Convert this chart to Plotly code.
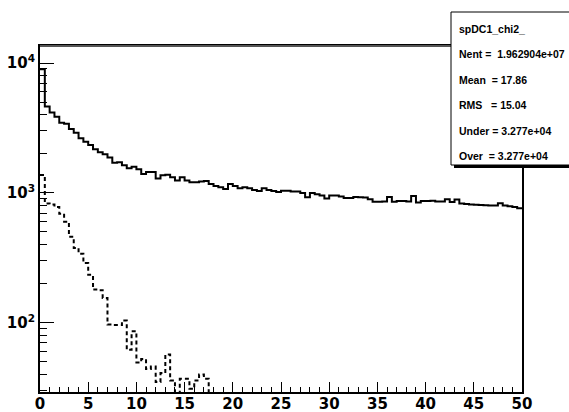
import numpy as np
import plotly.graph_objects as go

# 100 bins of width 0.5 over [0, 50]
bin_width = 0.5
edges = np.arange(0, 50 + bin_width / 2, bin_width)

# all entries (solid)
chi2_all = [8950, 4620, 4150, 3860, 3475, 3400, 3110, 2910, 2640, 2480,
            2340, 2170, 2056, 1986, 1870, 1710, 1720, 1633, 1549, 1593,
            1521, 1400, 1451, 1451, 1288, 1369, 1380, 1320, 1244, 1320,
            1244, 1208, 1208, 1222, 1237, 1173, 1132, 1106, 1073, 1173,
            1132, 1087, 1106, 1087, 1054, 1036, 1087, 1054, 1036, 1018,
            1040, 1040, 1025, 1025, 998, 926, 998, 977, 953, 904,
            953, 953, 940, 915, 915, 930, 926, 920, 895, 853,
            853, 860, 930, 853, 868, 868, 860, 948, 845, 868,
            868, 870, 858, 860, 895, 850, 890, 830, 823, 815,
            810, 808, 805, 800, 798, 833, 800, 790, 780, 762]

# selected entries (dashed); the last bin drops below the axis floor
chi2_sel = [1375, 830, 815, 780, 690, 600, 460, 376, 340, 288,
            234, 180, 178, 155, 97, 96, 96, 104, 62, 86,
            49.5, 52.5, 44, 46, 35, 41, 57, 36, 27, 37,
            37, 31, 36, 40, 37, 20]

x_ticks = [0, 5, 10, 15, 20, 25, 30, 35, 40, 45, 50]
y_ticks = [100, 1000, 10000]
y_tick_text = ["10<sup>2</sup>", "10<sup>3</sup>", "10<sup>4</sup>"]

stats_lines = [
    "spDC1_chi2_",
    "Nent =  1.962904e+07",
    "Mean  = 17.86",
    "RMS   = 15.04",
    "Under = 3.277e+04",
    "Over  = 3.277e+04",
]


def step_xy(values):
    n = len(values)
    xs = list(edges[:n + 1])
    ys = list(values) + [values[-1]]
    return xs, ys


W, H = 569, 412
L, R, T, B = 40, 47, 46, 20
PW, PH = W - L - R, H - T - B


def xp(px):
    return (px - L) / PW


def yp(py):
    return (H - B - py) / PH


fig = go.Figure()
xs, ys = step_xy(chi2_all)
fig.add_trace(go.Scatter(x=xs, y=ys, mode="lines", line_shape="hv",
                         line=dict(color="black", width=2)))
xs, ys = step_xy(chi2_sel)
fig.add_trace(go.Scatter(x=xs, y=ys, mode="lines", line_shape="hv",
                         line=dict(color="black", width=2, dash="4px,3px")))

minor_y = [m * d for d in (10, 100, 1000) for m in range(2, 10)]

tickfont = dict(family="DejaVu Sans", size=15, color="black", weight="bold")
fig.update_xaxes(range=[0, 50], tickvals=x_ticks, ticks="inside", ticklen=10,
                 tickwidth=1, tickcolor="black", automargin=False,
                 ticklabelstandoff=-3,
                 minor=dict(dtick=1, ticks="inside", ticklen=5, tickwidth=1,
                            tickcolor="black", showgrid=False),
                 showgrid=False, zeroline=False, showline=True, linewidth=2,
                 linecolor="black", mirror=True, tickfont=tickfont)
fig.update_yaxes(type="log", range=[1.467, 4.131], tickvals=y_ticks,
                 ticktext=y_tick_text, ticks="inside", ticklen=14, tickwidth=1,
                 tickcolor="black", automargin=False,
                 minor=dict(tickvals=minor_y, ticks="inside", ticklen=7,
                            tickwidth=1, tickcolor="black", showgrid=False),
                 showgrid=False, zeroline=False, showline=True, linewidth=2,
                 linecolor="black", mirror=True, tickfont=tickfont)

# top frame edge
fig.add_shape(type="line", xref="paper", yref="paper", x0=0, x1=1, y0=1, y1=1,
              line=dict(color="#555555", width=2), layer="above")

# statistics box with shadow
fig.add_shape(type="rect", xref="paper", yref="paper",
              x0=xp(454), x1=xp(620), y0=yp(168), y1=yp(15),
              fillcolor="black", line=dict(width=0), layer="above")
fig.add_shape(type="rect", xref="paper", yref="paper",
              x0=xp(451), x1=xp(617), y0=yp(165), y1=yp(12),
              fillcolor="white", line=dict(color="black", width=1), layer="above")

stat_font = dict(family="Liberation Sans", size=10.5, color="black", weight="bold")
row_y = [29, 54, 80, 105, 131, 156]
for line, py in zip(stats_lines, row_y):
    fig.add_annotation(xref="paper", yref="paper", x=xp(457), y=yp(py),
                       text=line.replace(" ", "\u00a0"), showarrow=False,
                       xanchor="left", yanchor="middle", font=stat_font)

fig.update_layout(width=W, height=H, margin=dict(l=L, r=R, t=T, b=B),
                  paper_bgcolor="white", plot_bgcolor="white",
                  showlegend=False)

fig.write_html("out.html")
